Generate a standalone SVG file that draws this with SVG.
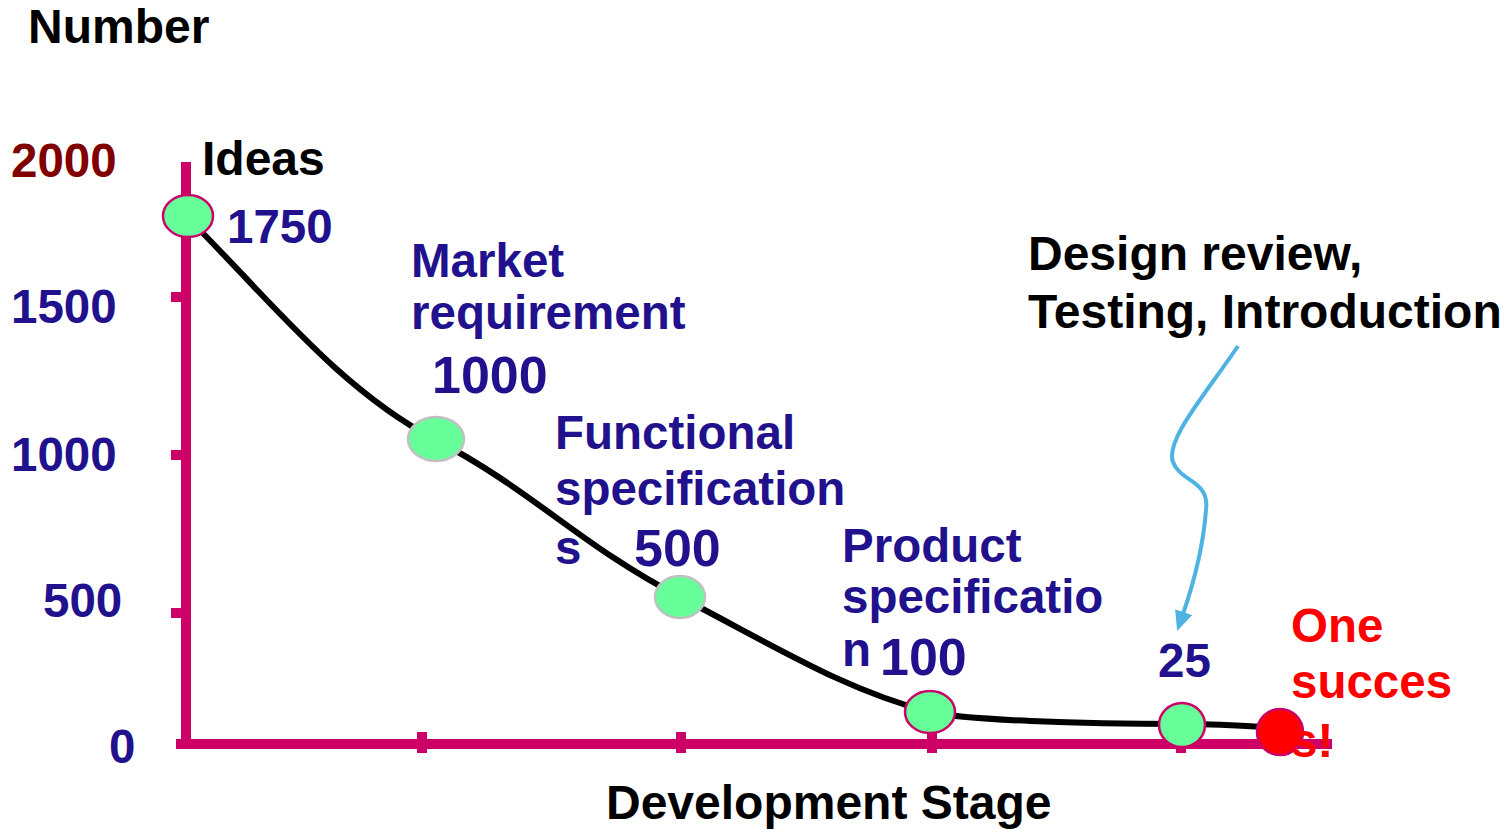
<svg xmlns="http://www.w3.org/2000/svg" width="1508" height="835" viewBox="0 0 1508 835">
<defs>
<marker id="arr" viewBox="0 0 20 18" refX="2" refY="9" markerWidth="20" markerHeight="18" markerUnits="userSpaceOnUse" orient="auto">
<path d="M0,0 L20,9 L0,18 z" fill="#4EB3E3"/>
</marker>
</defs>
<style>
text{font-family:"Liberation Sans",Arial,sans-serif;font-weight:bold;font-size:47.5px}
.blk{fill:#000;font-size:48px}
.blu{fill:#22118C}
.red{fill:#FF0000}
.drd{fill:#800000}
.big{font-size:52px}
.axis{stroke:#CC0066;stroke-width:10;fill:none}
.tick{stroke:#CC0066;stroke-width:10}
.curve{stroke:#000;stroke-width:6;fill:none}
.pt{fill:#66FF99;stroke-width:2.5}
.pk{stroke:#CC0066}
.gy{stroke:#C0C0C0}
</style>
<g id="axes">
<line class="axis" x1="186" y1="162" x2="186" y2="749"/>
<line class="axis" x1="176" y1="744" x2="1332" y2="744"/>
<line class="tick" x1="171" y1="297" x2="186" y2="297"/>
<line class="tick" x1="171" y1="455" x2="186" y2="455"/>
<line class="tick" x1="171" y1="613" x2="186" y2="613"/>
<line class="tick" x1="422" y1="732" x2="422" y2="753"/>
<line class="tick" x1="681" y1="732" x2="681" y2="753"/>
<line class="tick" x1="932" y1="732" x2="932" y2="753"/>
<line class="tick" x1="1181" y1="732" x2="1181" y2="753"/>
</g>
<g id="connectors">
<path class="curve" d="M188,218 C270,300 340,390 436,440 S580,545 680,597 S845,690 930,712 C965,720 1080,724 1182,724 C1230,724 1260,727 1280,728"/>
<path d="M1238,346 C1205,395 1165,440 1173,462 C1180,482 1210,480 1206,510 C1203,550 1193,585 1183,614" fill="none" stroke="#4EB3E3" stroke-width="4" marker-end="url(#arr)"/>
</g>
<g id="n-ideas"><ellipse class="pt pk" cx="188" cy="216" rx="25" ry="21"/></g>
<g id="n-market"><ellipse class="pt gy" cx="436" cy="439" rx="28" ry="22"/></g>
<g id="n-functional"><ellipse class="pt gy" cx="680" cy="597" rx="25" ry="21"/></g>
<g id="n-product"><ellipse class="pt pk" cx="930" cy="712" rx="25" ry="21"/></g>
<g id="n-design"><ellipse class="pt pk" cx="1182" cy="725" rx="23" ry="22"/></g>
<g id="n-success"><ellipse cx="1280" cy="732" rx="23" ry="23" fill="#FF0000" stroke="#CC0066" stroke-width="2.5"/></g>
<g id="labels">
<text class="blk" x="28" y="43">Number</text>
<text class="drd" x="11" y="177">2000</text>
<text class="blu" x="11" y="323">1500</text>
<text class="blu" x="11" y="471">1000</text>
<text class="blu" x="43" y="617">500</text>
<text class="blu" x="109" y="763">0</text>
<text class="blk" x="202" y="175">Ideas</text>
<text class="blu" x="227" y="243">1750</text>
<text class="blu" x="411" y="277">Market</text>
<text class="blu" x="411" y="329">requirement</text>
<text class="blu big" x="432" y="393">1000</text>
<text class="blu" x="555" y="449">Functional</text>
<text class="blu" x="555" y="505">specification</text>
<text class="blu" x="555" y="564">s</text>
<text class="blu big" x="634" y="566">500</text>
<text class="blu" x="842" y="562">Product</text>
<text class="blu" x="842" y="613">specificatio</text>
<text class="blu" x="842" y="666">n</text>
<text class="blu big" x="880" y="675">100</text>
<text class="blu" x="1158" y="677">25</text>
<text class="blk" x="1028" y="270">Design review,</text>
<text class="blk" x="1028" y="328">Testing, Introduction</text>
<text class="red" x="1291" y="642">One</text>
<text class="red" x="1291" y="698">succes</text>
<text class="red" x="1291" y="757">s!</text>
<text class="blk" x="606" y="819">Development Stage</text>
</g>
</svg>
